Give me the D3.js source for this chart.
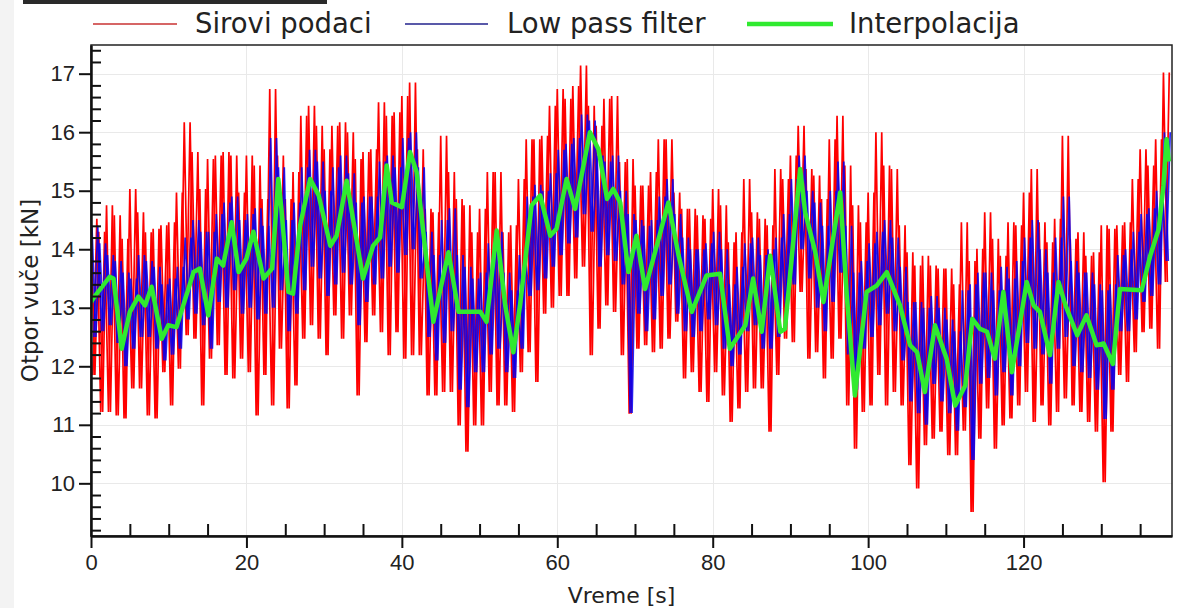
<!DOCTYPE html>
<html>
<head>
<meta charset="utf-8">
<script src="https://cdn.jsdelivr.net/npm/d3@7"></script>
<style>
  body { margin: 0; background: #fff; }
  svg { display: block; font-family: "DejaVu Sans", Verdana, sans-serif; }
  .axis text { font-size: 22px; fill: #222; }
  .axis path, .axis line { stroke: #111; }
</style>
</head>
<body>
<div id="chart"></div>
<script>
// raw signal envelope per second (max / min inside each 1 s window)
const rawHi = [14.52,14.3,14.75,14.58,14.18,15.03,14.63,14.29,14.35,14.41,
  14.46,14.97,16.17,15.66,15.03,15.54,15.6,15.66,15.6,14.97,
  15.6,15.43,14.86,16.74,15.6,14.86,15.32,16.28,16.45,16.11,
  15.71,16.11,16.17,16.0,15.54,15.66,15.71,16.51,16.28,16.34,
  16.62,16.85,15.71,14.69,14.63,15.94,15.32,14.86,14.75,14.29,
  14.69,15.32,15.32,14.29,14.41,15.2,15.88,15.88,15.94,16.45,
  16.74,16.57,16.79,17.14,16.45,16.11,16.57,16.62,15.49,15.54,
  15.09,15.09,15.32,15.88,15.88,14.97,14.69,14.69,14.58,14.52,
  15.03,14.75,14.12,14.29,15.2,14.63,14.52,14.41,15.37,15.2,
  15.6,16.11,15.37,15.26,14.86,15.88,16.28,15.43,14.75,14.46,
  14.97,16.0,15.43,15.37,14.41,13.95,13.72,13.89,13.72,13.67,
  13.67,13.4,14.46,13.8,14.01,14.63,14.18,13.89,14.46,14.41,
  14.97,15.37,14.46,14.12,14.52,15.94,14.18,14.29,13.89,13.95,
  14.41,14.35,14.41,14.46,15.2,15.71,15.43,15.88,17.02];
const rawLo = [11.85,11.22,11.22,11.16,11.11,11.62,11.62,11.16,11.11,11.9,
  11.33,11.96,12.53,12.47,11.33,12.13,12.36,11.85,11.79,12.13,
  11.9,11.16,11.85,11.33,12.3,11.28,11.67,12.47,12.7,12.47,
  12.19,12.87,12.47,12.87,11.5,12.41,12.87,12.58,12.19,12.58,
  12.13,12.19,12.19,11.5,11.5,11.56,11.56,10.99,10.54,10.99,
  10.99,11.56,11.33,11.33,11.22,11.9,12.24,11.73,12.9,13.0,
  13.2,13.2,13.5,13.7,12.19,12.64,13.04,12.93,12.19,11.19,
  12.3,12.36,12.24,12.3,12.47,12.76,11.79,11.9,11.56,11.39,
  11.9,11.5,11.05,11.28,11.56,11.62,11.62,10.88,11.85,12.47,
  12.41,13.27,12.13,12.24,11.79,12.13,12.47,11.33,10.59,11.22,
  11.33,11.85,11.33,11.56,11.33,10.31,9.91,10.65,10.76,10.88,
  10.48,10.48,10.9,9.51,10.76,11.28,10.59,10.99,11.11,11.33,
  11.56,11.05,11.33,10.99,11.22,11.45,11.33,11.22,11.05,10.88,
  10.02,10.88,11.85,11.73,12.24,12.58,12.64,12.3,13.44];

// low pass filter envelope per second
const lpHi = [14.4,14.1,13.9,13.8,13.6,13.5,13.9,13.8,13.7,13.4,
  13.5,13.7,14.2,14.5,14.3,14.3,14.6,14.8,14.9,14.5,
  14.6,14.7,14.4,15.9,15.4,14.5,14.8,15.4,15.7,15.5,
  15.0,15.4,15.6,15.3,14.8,14.9,14.9,15.5,15.6,15.4,
  15.9,16.0,15.4,14.3,13.9,14.5,14.7,13.9,13.7,13.5,
  13.6,14.1,14.3,13.6,13.3,13.9,14.9,15.1,15.0,15.3,
  15.7,15.8,15.9,16.3,16.2,15.6,15.5,15.6,15.0,14.6,
  14.5,14.4,14.5,14.9,15.2,14.6,14.2,14.0,14.0,14.1,
  14.3,14.0,13.4,13.7,14.1,14.2,13.9,14.0,14.2,14.6,
  15.2,15.6,15.0,14.8,14.4,15.0,15.5,14.4,13.6,13.8,
  14.1,14.3,14.5,14.2,13.7,13.1,13.1,13.0,13.2,13.0,
  12.8,12.6,13.3,13.4,13.6,13.6,13.3,13.7,13.5,13.8,
  14.2,14.5,14.0,13.6,14.2,14.9,13.8,13.6,13.6,13.4,
  13.3,13.4,13.9,14.0,14.3,14.6,14.7,15.0,16.0];
const lpLo = [12.5,12.6,12.7,12.4,12.0,12.3,12.5,12.5,12.3,12.1,
  12.2,12.3,12.8,12.9,12.7,12.3,13.1,13.0,13.3,12.9,
  13.0,12.8,12.9,13.0,13.3,12.6,12.9,13.3,13.7,13.5,
  13.2,13.4,13.6,13.4,12.7,13.1,13.4,13.5,13.7,13.6,
  13.9,14.0,13.5,12.5,12.1,12.4,12.6,11.6,11.3,11.9,
  11.9,12.2,12.3,11.9,11.8,12.3,13.2,13.3,13.5,13.7,
  13.9,14.1,14.2,14.6,14.3,13.7,13.9,13.8,13.4,11.2,
  12.9,12.6,12.8,13.2,13.4,12.9,12.6,12.5,12.6,12.8,
  12.7,12.3,12.0,12.2,12.6,12.7,12.3,12.3,12.5,13.0,
  13.4,14.0,13.5,13.0,12.6,13.1,13.6,12.2,11.6,12.3,
  12.5,12.7,12.9,12.6,12.1,11.4,11.2,11.0,11.7,11.4,
  11.2,10.9,11.3,10.4,11.7,11.8,11.5,11.9,11.5,12.0,
  12.4,12.3,12.2,11.7,12.3,12.5,12.0,11.9,11.8,11.6,
  11.1,11.6,12.6,12.6,12.8,13.1,13.2,13.4,13.8];

// interpolation knots
const interpT = [0,0.5,2.4,2.9,3.95,5.0,6.1,6.95,7.8,9.1,9.95,11.0,13.2,14.0,15.1,16.2,17.0,18.1,19.0,20.0,
  20.9,22.2,23.3,24.1,24.5,25.4,26.0,26.9,28.2,29.3,30.8,31.6,32.9,35.0,36.3,37.2,38.05,38.7,40.0,41.05,
  41.9,44.05,46.0,47.3,50.1,50.9,52.2,53.3,54.35,55.2,56.7,57.8,59.1,59.9,61.2,62.3,64.2,65.3,66.4,67.2,
  68.1,69.15,70.2,71.3,74.3,75.6,77.3,79.2,80.95,82.2,84.2,85.2,86.3,87.4,88.7,89.3,91.25,91.9,93.2,94.25,
  96.4,97.25,98.3,99.8,101.1,102.4,104.1,105.4,106.3,107.3,108.6,110.1,111.2,112.5,113.4,114.4,115.3,116.3,117.4,118.5,
  120.4,121.3,122.1,123.4,124.5,125.4,126.9,128.1,129.4,130.3,131.5,132.4,135.2,136.3,137.4,138.0,138.4,138.7];
const interpV = [13.1,13.2,13.53,13.5,12.3,12.93,13.19,13.04,13.36,12.47,12.7,12.67,13.61,13.67,12.87,13.84,13.72,14.46,13.61,13.84,
  14.3,13.5,13.67,15.2,14.69,13.27,13.24,14.4,15.2,14.92,14.06,14.23,15.17,13.5,14.06,14.2,15.43,14.8,14.72,15.66,
  15.32,12.76,13.95,12.93,12.93,12.76,14.32,13.04,12.24,13.04,14.75,14.92,14.23,14.35,15.2,14.69,16.0,15.71,14.86,15.03,
  14.8,13.61,14.23,13.32,14.8,13.9,12.93,13.55,13.58,12.3,12.7,13.5,12.59,13.89,12.59,12.64,15.37,14.63,13.95,13.1,
  14.97,13.21,11.5,13.27,13.38,13.61,13.04,12.36,12.24,11.56,12.7,12.13,11.33,11.67,12.81,12.64,12.59,12.13,13.27,11.9,
  13.44,13.04,12.93,12.19,13.44,13.04,12.53,12.87,12.36,12.39,12.04,13.32,13.3,13.89,14.35,15.09,15.88,15.5];

const xMajor = [0, 20, 40, 60, 80, 100, 120];
const yMajor = [10, 11, 12, 13, 14, 15, 16, 17];
const seriesNames = ["Sirovi podaci", "Low pass filter", "Interpolacija"];

const width = 1182, height = 608;
const pLeft = 91, pRight = 1172, pTop = 45, pBottom = 536;

const svg = d3.select("#chart").append("svg")
  .attr("width", width)
  .attr("height", height);

// window remnants from the screenshot
svg.append("rect").attr("x", 0).attr("y", 0).attr("width", 14).attr("height", height).attr("fill", "#f3f3f3");
svg.append("rect").attr("x", 23).attr("y", 0).attr("width", 304).attr("height", 4).attr("fill", "#2a2a2a");

const x = d3.scaleLinear().domain([0, 139.1]).range([pLeft, pRight]);
const y = d3.scaleLinear().domain([9.1, 17.49]).range([pBottom, pTop]);

// grid
const grid = svg.append("g").attr("stroke", "#e9e9e9").attr("stroke-width", 1);
grid.selectAll(".gy").data(yMajor).enter().append("line")
  .attr("x1", pLeft).attr("x2", pRight)
  .attr("y1", d => Math.round(y(d)) + 0.5).attr("y2", d => Math.round(y(d)) + 0.5);
grid.selectAll(".gx").data(xMajor.slice(1)).enter().append("line")
  .attr("y1", pTop).attr("y2", pBottom)
  .attr("x1", d => Math.round(x(d)) + 0.5).attr("x2", d => Math.round(x(d)) + 0.5);

svg.append("clipPath").attr("id", "plot")
  .append("rect").attr("x", pLeft).attr("y", pTop).attr("width", pRight - pLeft).attr("height", pBottom - pTop);

const plot = svg.append("g").attr("clip-path", "url(#plot)");

const line = d3.line().x(d => x(d[0])).y(d => y(d[1]));

// each 1 s window is swept twice (hi->lo and lo->hi) so the dense signal reads as a band
const sweep = (hi, lo, off) => [
  hi.flatMap((h, i) => [[i + off, h], [i + off + 0.5, lo[i]]]),
  hi.flatMap((h, i) => [[i + off + 0.25, lo[i]], [i + off + 0.75, h]])
];
const interpPts = interpT.map((t, i) => [t, interpV[i]]);

plot.selectAll(".raw").data(sweep(rawHi, rawLo, 0)).enter().append("path")
  .attr("d", line)
  .attr("fill", "none")
  .attr("stroke", "#f00")
  .attr("stroke-width", 1.7);

plot.selectAll(".lp").data(sweep(lpHi, lpLo, 0.12)).enter().append("path")
  .attr("d", line)
  .attr("fill", "none")
  .attr("stroke", "#0000f5")
  .attr("stroke-opacity", 0.85)
  .attr("stroke-width", 1.7);

plot.append("path").datum(interpPts)
  .attr("d", line)
  .attr("fill", "none")
  .attr("stroke", "#30ea30")
  .attr("stroke-width", 4.5)
  .attr("stroke-linejoin", "round");

// frame
svg.append("rect")
  .attr("x", pLeft).attr("y", pTop)
  .attr("width", pRight - pLeft).attr("height", pBottom - pTop)
  .attr("fill", "none").attr("stroke", "#222").attr("stroke-width", 1.5);

// axes
const xMinor = d3.range(5, 139, 5).filter(v => v % 20 !== 0);
const yMinor = d3.range(9.2, 17.45, 0.2).filter(v => Math.abs(v - Math.round(v)) > 0.01);

const xAxis = svg.append("g").attr("class", "axis")
  .attr("transform", `translate(0,${pBottom})`)
  .call(d3.axisBottom(x).tickValues(xMajor).tickSize(12).tickSizeOuter(0).tickPadding(6));
xAxis.selectAll("line").attr("stroke-width", 2);
xAxis.select(".domain").attr("stroke-width", 2.5);

svg.append("g").attr("class", "axis")
  .attr("transform", `translate(0,${pBottom})`)
  .call(d3.axisBottom(x).tickValues(xMinor).tickSize(-12).tickSizeOuter(0).tickFormat(""))
  .call(g => g.select(".domain").remove())
  .selectAll("line").attr("stroke-width", 2);

const yAxis = svg.append("g").attr("class", "axis")
  .attr("transform", `translate(${pLeft},0)`)
  .call(d3.axisLeft(y).tickValues(yMajor).tickSize(12).tickSizeOuter(0).tickPadding(4));
yAxis.selectAll("line").attr("stroke-width", 2);
yAxis.select(".domain").attr("stroke-width", 2.5);

svg.append("g").attr("class", "axis")
  .attr("transform", `translate(${pLeft},0)`)
  .call(d3.axisLeft(y).tickValues(yMinor).tickSize(-10).tickSizeOuter(0).tickFormat(""))
  .call(g => g.select(".domain").remove())
  .selectAll("line").attr("stroke-width", 2);

svg.selectAll(".axis .tick text").attr("fill", "#222");

// axis titles
svg.append("text")
  .attr("x", (pLeft + pRight) / 2 - 10).attr("y", 603)
  .attr("text-anchor", "middle")
  .attr("font-size", 22).attr("fill", "#222")
  .text("Vreme [s]");

svg.append("text")
  .attr("transform", `translate(38,${(pTop + pBottom) / 2}) rotate(-90)`)
  .attr("text-anchor", "middle")
  .attr("font-size", 23).attr("fill", "#222")
  .text("Otpor vuče [kN]");

// legend
const legend = [
  {x1: 93, x2: 177, tx: 195, color: "#c83232", w: 1.5},
  {x1: 405, x2: 488, tx: 507, color: "#22228c", w: 1.5},
  {x1: 747, x2: 833, tx: 849, color: "#30ea30", w: 4.5}
];
const lg = svg.append("g");
lg.selectAll("line").data(legend).enter().append("line")
  .attr("x1", d => d.x1).attr("x2", d => d.x2)
  .attr("y1", 24).attr("y2", 24)
  .attr("stroke", d => d.color).attr("stroke-width", d => d.w);
lg.selectAll("text").data(legend).enter().append("text")
  .attr("x", d => d.tx).attr("y", 33)
  .attr("font-size", 27.5).attr("fill", "#222")
  .text((d, i) => seriesNames[i]);
</script>
</body>
</html>
